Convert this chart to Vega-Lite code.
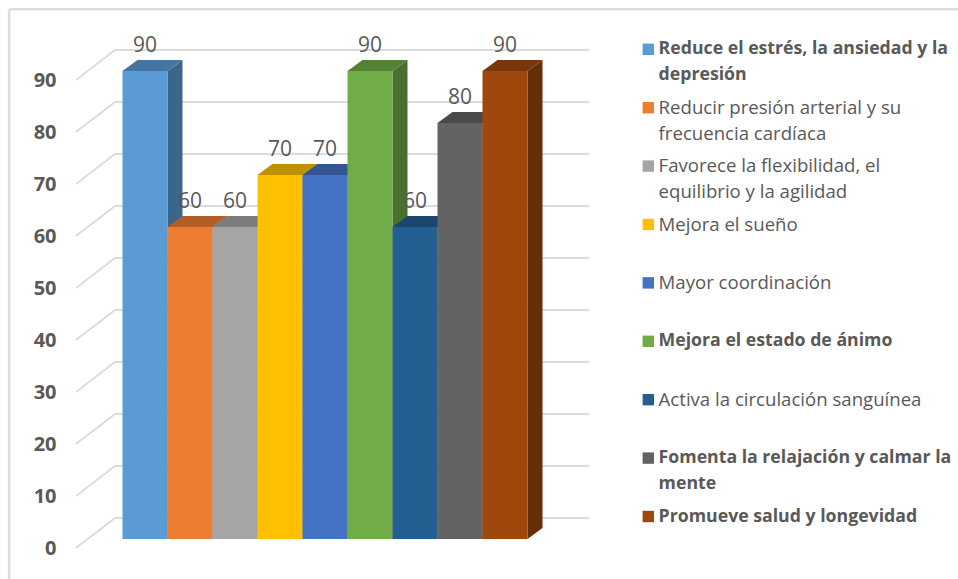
{
  "$schema": "https://vega.github.io/schema/vega-lite/v6.json",
  "width": 513,
  "height": 520,
  "autosize": {"type": "none"},
  "padding": {"left": 76, "top": 28, "right": 369, "bottom": 31},
  "background": "white",
  "config": {"view": {"stroke": null}, "font": "Open Sans"},
  "data": {
    "values": [
      {"i": 0, "beneficio": "Reduce el estrés, la ansiedad y la\ndepresión", "valor": 90},
      {"i": 1, "beneficio": "Reducir presión arterial y su\nfrecuencia cardíaca", "valor": 60},
      {"i": 2, "beneficio": "Favorece la flexibilidad, el\nequilibrio y la agilidad", "valor": 60},
      {"i": 3, "beneficio": "Mejora el sueño", "valor": 70},
      {"i": 4, "beneficio": "Mayor coordinación", "valor": 70},
      {"i": 5, "beneficio": "Mejora el estado de ánimo", "valor": 90},
      {"i": 6, "beneficio": "Activa la circulación sanguínea", "valor": 60},
      {"i": 7, "beneficio": "Fomenta la relajación y calmar la\nmente", "valor": 80},
      {"i": 8, "beneficio": "Promueve salud y longevidad", "valor": 90}
    ]
  },
  "transform": [
    {"calculate": "datum.i + 1", "as": "fin"},
    {"calculate": "datum.i + 0.5", "as": "centro"},
    {"calculate": "0", "as": "p0"},
    {"calculate": "1", "as": "p1"}
  ],
  "resolve": {"scale": {"color": "independent"}},
  "layer": [
    {
      "description": "Marco del gráfico",
      "data": {"values": [{"marco": 1}]},
      "mark": {"type": "rule", "color": "#dcdcdc", "strokeWidth": 2.5},
      "encoding": {
        "x": {"datum": -2.52, "type": "quantitative", "scale": {"domain": [-1.0333, 10.3667], "nice": false, "zero": false}, "axis": null},
        "x2": {"datum": 18.6},
        "y": {"datum": 103.6, "type": "quantitative", "scale": {"domain": [0, 100], "nice": false}}
      }
    },
    {
      "data": {"values": [{"marco": 1}]},
      "mark": {"type": "rule", "color": "#dcdcdc", "strokeWidth": 2.5},
      "encoding": {
        "x": {"datum": -2.52, "type": "quantitative"},
        "y": {"datum": 103.6, "type": "quantitative"},
        "y2": {"datum": -6}
      }
    },
    {
      "description": "Rejilla en perspectiva: tramo inclinado del suelo y tramo de la pared",
      "data": {"values": [{"nivel": 0}, {"nivel": 10}, {"nivel": 20}, {"nivel": 30}, {"nivel": 40}, {"nivel": 50}, {"nivel": 60}, {"nivel": 70}, {"nivel": 80}, {"nivel": 90}]},
      "transform": [
        {"calculate": "-1.0333", "as": "a"},
        {"calculate": "-0.1667", "as": "b"},
        {"calculate": "10.3667", "as": "c"},
        {"fold": ["a", "b", "c"], "as": ["punto", "xr"]},
        {"calculate": "datum.nivel + (datum.punto === 'a' ? 0 : 5.77)", "as": "yr"}
      ],
      "mark": {"type": "line", "color": "#dcdcdc", "strokeWidth": 2},
      "encoding": {
        "x": {"field": "xr", "type": "quantitative"},
        "y": {"field": "yr", "type": "quantitative"},
        "detail": {"field": "nivel"}
      }
    },
    {
      "description": "Cara lateral de cada barra",
      "transform": [
        {"fold": ["p0", "p1"], "as": ["extremo", "paso"]},
        {"calculate": "datum.fin + datum.paso / 3", "as": "xl"},
        {"calculate": "datum.valor + datum.paso * 2.115", "as": "altoL"},
        {"calculate": "datum.paso * 2.115", "as": "bajoL"}
      ],
      "mark": {"type": "area", "yOffset": -9, "y2Offset": -9},
      "encoding": {
        "x": {"field": "xl", "type": "quantitative"},
        "y": {"field": "altoL", "type": "quantitative"},
        "y2": {"field": "bajoL"},
        "color": {
          "field": "beneficio",
          "type": "nominal",
          "sort": {"field": "i"},
          "legend": null,
          "scale": {"range": ["#3B658A", "#9A5120", "#6B6B6B", "#A67D00", "#2C4A7F", "#49702E", "#183D5E", "#404040", "#672F09"]}
        }
      }
    },
    {
      "description": "Cara superior de cada barra",
      "transform": [
        {"fold": ["p0", "p1"], "as": ["extremo", "paso"]},
        {"calculate": "datum.i + datum.paso / 3", "as": "xa"},
        {"calculate": "datum.fin + datum.paso / 3", "as": "xb"},
        {"calculate": "datum.valor + datum.paso * 2.115", "as": "ys"}
      ],
      "mark": {"type": "area", "orient": "horizontal", "yOffset": -9, "y2Offset": -9},
      "encoding": {
        "y": {"field": "ys", "type": "quantitative"},
        "x": {"field": "xa", "type": "quantitative"},
        "x2": {"field": "xb"},
        "color": {
          "field": "beneficio",
          "type": "nominal",
          "sort": {"field": "i"},
          "legend": null,
          "scale": {"range": ["#4474A0", "#B25E25", "#7C7C7C", "#BF9000", "#335693", "#548235", "#1C466D", "#4A4A4A", "#77360B"]}
        }
      }
    },
    {
      "description": "Cara frontal de cada barra, con la leyenda",
      "mark": {"type": "bar", "yOffset": -9, "y2Offset": -9},
      "encoding": {
        "x": {"field": "i", "type": "quantitative"},
        "x2": {"field": "fin"},
        "y": {
          "field": "valor",
          "type": "quantitative",
          "axis": {
            "title": null,
            "values": [0, 10, 20, 30, 40, 50, 60, 70, 80, 90],
            "domain": false,
            "ticks": false,
            "grid": false,
            "labelPadding": 20,
            "labelFontSize": 20,
            "labelFontWeight": "bold",
            "labelColor": "#595959",
            "labelFont": "Open Sans"
          }
        },
        "y2": {"datum": 0},
        "color": {
          "field": "beneficio",
          "type": "nominal",
          "sort": {"field": "i"},
          "scale": {"range": ["#5B9BD5", "#ED7D31", "#A5A5A5", "#FFC000", "#4472C4", "#70AD47", "#255E91", "#636363", "#9E480E"]},
          "legend": {
            "orient": "none",
            "legendX": 563,
            "legendY": 12,
            "title": null,
            "columns": 1,
            "gridAlign": "all",
            "rowPadding": 13.4,
            "symbolType": "square",
            "symbolSize": 130,
            "symbolStrokeWidth": 0,
            "labelFont": "Open Sans",
            "labelFontSize": 18,
            "labelColor": "#595959",
            "labelLimit": 330,
            "labelOffset": 1,
            "labelBaseline": "top",
            "labelExpr": "split(datum.label, '\\n')",
            "encoding": {
              "labels": {
                "fontWeight": {"value": {"signal": "test(/^(Reduce|Mejora el estado|Fomenta|Promueve)/, datum.label) ? 'bold' : 'normal'"}},
                "fontSize": {"value": {"signal": "test(/^(Reduce|Mejora el estado|Fomenta|Promueve)/, datum.label) ? 17.7 : 18.6"}},
                "lineHeight": {"value": 26},
                "dy": {"value": -9}
              }
            }
          }
        }
      }
    },
    {
      "description": "Valor sobre cada barra",
      "mark": {"type": "text", "dy": -34, "fontSize": 21, "color": "#595959", "baseline": "middle"},
      "encoding": {
        "x": {"field": "centro", "type": "quantitative"},
        "y": {"field": "valor", "type": "quantitative"},
        "text": {"field": "valor", "type": "quantitative"}
      }
    }
  ]
}
